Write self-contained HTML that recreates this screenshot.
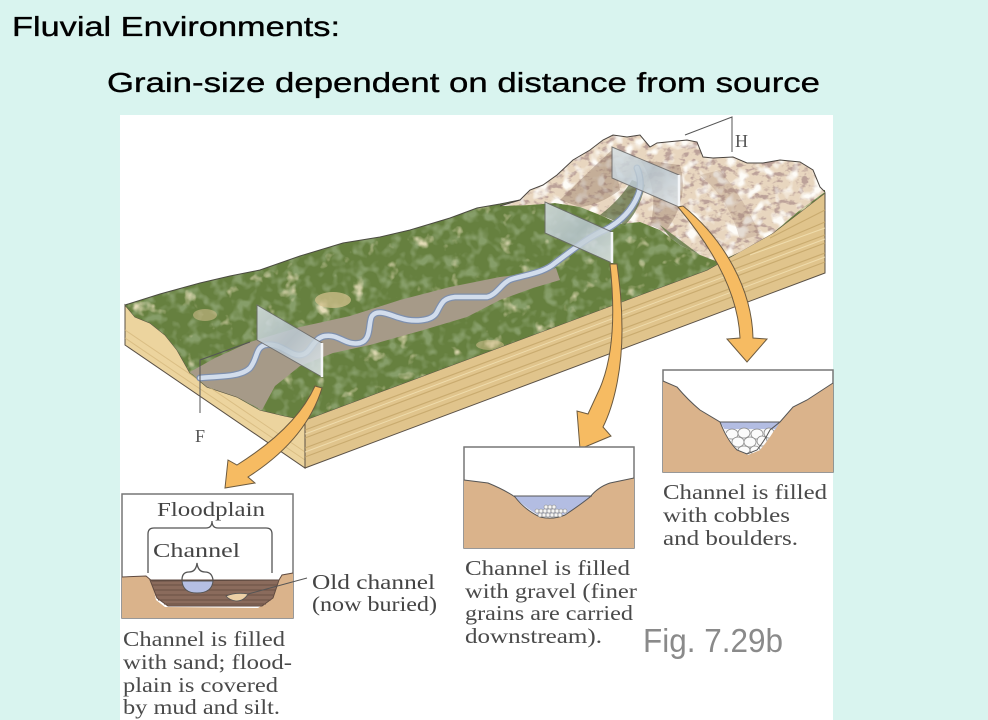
<!DOCTYPE html>
<html><head><meta charset="utf-8"><style>
html,body{margin:0;padding:0;background:#d9f4ef;}
svg{display:block;}
</style></head><body>
<svg width="988" height="720" viewBox="0 0 988 720" xmlns="http://www.w3.org/2000/svg">
<defs>
<filter id="tanspots" x="0" y="0" width="100%" height="100%">
<feTurbulence type="fractalNoise" baseFrequency="0.06" numOctaves="3" seed="4"/>
<feColorMatrix type="matrix" values="0 0 0 0 0.78  0 0 0 0 0.72  0 0 0 0 0.48  4 0 0 0 -2.55"/>
</filter>
<filter id="darkspots" x="0" y="0" width="100%" height="100%">
<feTurbulence type="fractalNoise" baseFrequency="0.09" numOctaves="2" seed="9"/>
<feColorMatrix type="matrix" values="0 0 0 0 0.24  0 0 0 0 0.34  0 0 0 0 0.14  0 4 0 0 -1.9"/>
</filter>
<filter id="rockspots" x="0" y="0" width="100%" height="100%">
<feTurbulence type="fractalNoise" baseFrequency="0.11 0.18" numOctaves="3" seed="2"/>
<feColorMatrix type="matrix" values="0 0 0 0 0.50  0 0 0 0 0.36  0 0 0 0 0.32  6 0 0 0 -3.0"/>
</filter>
<filter id="rocklight" x="0" y="0" width="100%" height="100%">
<feTurbulence type="fractalNoise" baseFrequency="0.08" numOctaves="2" seed="7"/>
<feColorMatrix type="matrix" values="0 0 0 0 0.99  0 0 0 0 0.97  0 0 0 0 0.93  0 5 0 0 -2.5"/>
</filter>
<clipPath id="topclip"><path d="M125,305 L160,294 L200,283 L230,276 L260,270 L300,256 L343,243 L380,237 L410,230 L450,218 L477,208 L500,204 L520,200 L560,195 L700,200 L825,190 L825,193 L773,233 L707,270 L305,420 L285,416 L260,410 L237,397 L207,387 L190,373 L177,350 L165,335 L150,323 L135,317 Z"/></clipPath>
<clipPath id="rockclip"><path d="M500,206 L520,200 L530,190 L543,185 L557,175 L573,160 L590,150 L603,140 L613,135 L627,137 L640,135 L650,147 L657,143 L667,142 L687,140 L697,142 L703,157 L713,158 L733,157 L747,163 L763,163 L780,160 L800,162 L813,170 L820,187 L825,192 L800,210 L773,233 L740,252 L718,262 L700,255 L680,245 L660,230 L640,222 L620,224 L600,215 L580,207 L555,203 L530,205 Z"/></clipPath>
<clipPath id="cobclip"><path d="M722,424 L778,424 Q770,438 760,450 L748,455 L737,450 Q728,438 722,424 Z"/></clipPath>
<linearGradient id="glass" x1="0" y1="0" x2="1" y2="1">
<stop offset="0" stop-color="#d9e2e6"/><stop offset="0.5" stop-color="#b9c7d0"/><stop offset="1" stop-color="#e3eaee"/>
</linearGradient>
</defs>

<rect x="0" y="0" width="988" height="720" fill="#d9f4ef"/>
<rect x="120" y="115" width="713" height="605" fill="#ffffff"/>

<text x="12" y="36" font-family="Liberation Sans, Arial, sans-serif" font-size="28" fill="#000" stroke="#000" stroke-width="0.35" textLength="328" lengthAdjust="spacingAndGlyphs">Fluvial Environments:</text>
<text x="107" y="92" font-family="Liberation Sans, Arial, sans-serif" font-size="28" fill="#000" stroke="#000" stroke-width="0.35" textLength="713" lengthAdjust="spacingAndGlyphs">Grain-size dependent on distance from source</text>

<!-- left end face -->
<path d="M125,305 L135,317 L150,323 L165,335 L177,350 L190,373 L207,387 L237,397 L260,410 L285,416 L305,420 L305,468 L125,345 Z" fill="#ecd49e" stroke="#5a5045" stroke-width="1"/>
<g stroke="#d6b97e" stroke-width="1" fill="none" opacity="0.8">
<path d="M125,330 L305,452"/><path d="M125,338 L305,460"/>
</g>
<!-- front long face (including exposed cliff at right end) -->
<path d="M305,420 L707,270 L773,233 L825,193 L825,273 L305,468 Z" fill="#e0c48c" stroke="#5a5045" stroke-width="1"/>
<g stroke="#c6a76b" stroke-width="1.2" fill="none" opacity="0.85">
<path d="M305,430 L825,235"/><path d="M305,438 L825,243"/><path d="M305,448 L825,253"/><path d="M305,457 L825,262"/>
<path d="M730,262 L825,222"/><path d="M770,238 L825,210"/>
</g>
<g stroke="#f3e2b4" stroke-width="1" fill="none" opacity="0.8">
<path d="M305,434 L825,239"/><path d="M305,452 L825,257"/><path d="M750,255 L825,228"/>
</g>

<!-- top surface -->
<g clip-path="url(#topclip)">
<rect x="120" y="185" width="710" height="240" fill="#66803f"/>
<rect x="120" y="185" width="710" height="240" filter="url(#darkspots)"/>
<rect x="120" y="185" width="710" height="240" filter="url(#tanspots)"/>
<ellipse cx="333" cy="300" rx="18" ry="8" fill="#d2c08c" opacity="0.75"/>
<ellipse cx="205" cy="315" rx="12" ry="6" fill="#cdbb88" opacity="0.6"/>
<ellipse cx="490" cy="345" rx="14" ry="5" fill="#cfbd8b" opacity="0.55"/>
<!-- floodplain -->
<path d="M190,372 L215,358 L250,342 L300,327 L350,316 L400,300 L450,287 L500,277 L540,272 L556,268 L560,280 L533,288 L500,300 L467,317 L420,331 L370,345 L333,353 L300,366 L275,386 L262,410 L237,397 L207,387 Z" fill="#a69a88"/>
</g>
<path d="M125,305 L160,294 L200,283 L230,276 L260,270 L300,256 L343,243 L380,237 L410,230 L450,218 L477,208 L500,204 L520,200" fill="none" stroke="#4a4a40" stroke-width="1"/>

<!-- mountains -->
<g clip-path="url(#rockclip)">
<rect x="495" y="130" width="335" height="135" fill="#e8d6bf"/>
<rect x="495" y="130" width="335" height="135" filter="url(#rockspots)"/>
<rect x="495" y="130" width="335" height="135" filter="url(#rocklight)"/>
<path d="M560,200 Q590,170 612,150 L620,190 Q600,205 580,207 Z" fill="#8f7260" opacity="0.4"/>
<path d="M640,160 Q660,190 650,225 L665,232 Q690,200 680,165 Z" fill="#8a6e5c" opacity="0.35"/>
<path d="M700,175 Q730,200 740,240 L760,235 Q745,200 720,170 Z" fill="#9a7c68" opacity="0.25"/>
<path d="M660,225 L700,255 L718,262 L690,262 Z" fill="#5d7440" opacity="0.8"/>
</g>
<path d="M500,206 L520,200 L530,190 L543,185 L557,175 L573,160 L590,150 L603,140 L613,135 L627,137 L640,135 L650,147 L657,143 L667,142 L687,140 L697,142 L703,157 L713,158 L733,157 L747,163 L763,163 L780,160 L800,162 L813,170 L820,187 L825,192" fill="none" stroke="#4a4540" stroke-width="1"/>
<!-- gorge shadow -->
<path d="M600,215 Q620,200 632,180 L645,185 Q640,210 625,225 Z" fill="#56683a" opacity="0.7"/>

<!-- river -->
<path d="M200,378 C215,376 240,378 250,368 C258,358 255,348 265,345 C280,342 290,356 300,355 C312,354 312,338 325,336 C340,334 345,346 360,343 C372,340 368,322 372,316 C378,308 392,316 400,318 C412,322 432,322 437,312 C442,302 444,298 455,297 L487,297 C497,295 502,282 512,279 C530,274 545,272 555,263 C575,248 590,236 605,230 C620,222 632,210 638,195 C642,185 640,175 637,168" fill="none" stroke="#7f90ad" stroke-width="7" stroke-linecap="round"/>
<path d="M200,378 C215,376 240,378 250,368 C258,358 255,348 265,345 C280,342 290,356 300,355 C312,354 312,338 325,336 C340,334 345,346 360,343 C372,340 368,322 372,316 C378,308 392,316 400,318 C412,322 432,322 437,312 C442,302 444,298 455,297 L487,297 C497,295 502,282 512,279 C530,274 545,272 555,263 C575,248 590,236 605,230 C620,222 632,210 638,195 C642,185 640,175 637,168" fill="none" stroke="#d2ddec" stroke-width="4.5" stroke-linecap="round"/>

<!-- glass panels -->
<path d="M257,305 L322,343 L322,377 L257,340 Z" fill="url(#glass)" opacity="0.85" stroke="#6a6a6a" stroke-width="1"/>
<path d="M322,343 L322,377" stroke="#f4f6f8" stroke-width="2.5"/>
<path d="M545,202 L612,232 L612,263 L545,233 Z" fill="url(#glass)" opacity="0.85" stroke="#6a6a6a" stroke-width="1"/>
<path d="M612,232 L612,263" stroke="#f4f6f8" stroke-width="2.5"/>
<path d="M612,147 L679,175 L679,207 L612,178 Z" fill="url(#glass)" opacity="0.85" stroke="#6a6a6a" stroke-width="1"/>
<path d="M679,175 L679,207" stroke="#f4f6f8" stroke-width="2.5"/>

<!-- F and H labels -->
<path d="M250,342 L200,360 L200,413" fill="none" stroke="#555" stroke-width="1"/>
<text x="200" y="442" text-anchor="middle" font-family="Liberation Serif, serif" font-size="18" fill="#555">F</text>
<path d="M685,135 L732,117 L732,152" fill="none" stroke="#555" stroke-width="1"/>
<text x="735" y="147" font-family="Liberation Serif, serif" font-size="18" fill="#555">H</text>

<!-- arrows -->
<path d="M315,386 Q296,428 237,465 L228,460 L225,488 L255,483 L248,477 Q306,440 322,388 Z" fill="#f6bb62" stroke="#6b5a40" stroke-width="1"/>
<path d="M610,264 C615,310 614,355 600,388 L588,414 L577,411 L580,449 L611,436 L603,427 C614,405 622,370 622,330 C622,300 619,280 617,264 Z" fill="#f6bb62" stroke="#6b5a40" stroke-width="1"/>
<path d="M678,207 C710,245 738,290 740,338 L727,339 L747,362 L767,339 L753,338 C752,290 725,240 683,206 Z" fill="#f6bb62" stroke="#6b5a40" stroke-width="1"/>

<!-- Box 1: floodplain -->
<rect x="122" y="494" width="171" height="124" fill="#fff" stroke="#777" stroke-width="1.5"/>
<path d="M122,577 L146,576 L152,581 L156,600 L165,607 L258,608 L270,600 L277,583 L282,575 L293,573 L293,618 L122,618 Z" fill="#dab38b"/>
<path d="M150,580 L279,580 L273,598 L262,606 L168,606 L157,598 Z" fill="#8a6b5c" stroke="#5f4a40" stroke-width="1"/>
<g stroke="#6b5045" stroke-width="1">
<path d="M152,585 L277,585"/><path d="M154,590 L276,590"/><path d="M155,595 L274,595"/><path d="M158,600 L271,600"/><path d="M164,604 L266,604"/>
</g>
<path d="M122,577 L146,576 L152,581 L279,580 L282,575 L293,573" fill="none" stroke="#5f4a40" stroke-width="1"/>
<path d="M182,581 L213,581 Q212,593 197,593 Q183,593 182,581 Z" fill="#b5bfe3" stroke="#555" stroke-width="1"/>
<path d="M226,596 Q236,592 248,594 Q244,601 236,601 Q229,600 226,596 Z" fill="#ecd0a6" stroke="#555" stroke-width="0.8"/>
<path d="M248,594 L307,578" stroke="#555" stroke-width="1"/>
<path d="M148,573 L148,534 Q148,528 154,528 L206,528 Q212,528 212,521 Q212,528 218,528 L266,528 Q272,528 272,534 L272,573" fill="none" stroke="#555" stroke-width="1.3"/>
<path d="M182,580 Q182,572 189,572 Q196,572 197,563 Q198,572 205,572 Q212,572 213,580" fill="none" stroke="#555" stroke-width="1.3"/>
<text x="157" y="516" font-family="Liberation Serif, serif" font-size="20" fill="#444" textLength="108" lengthAdjust="spacingAndGlyphs">Floodplain</text>
<text x="153" y="557" font-family="Liberation Serif, serif" font-size="20" fill="#444" textLength="87" lengthAdjust="spacingAndGlyphs">Channel</text>
<text x="312" y="589" font-family="Liberation Serif, serif" font-size="21" fill="#444" textLength="123" lengthAdjust="spacingAndGlyphs">Old channel</text>
<text x="312" y="611" font-family="Liberation Serif, serif" font-size="21" fill="#444" textLength="125" lengthAdjust="spacingAndGlyphs">(now buried)</text>

<g font-family="Liberation Serif, serif" font-size="21" fill="#4a4a4a">
<text x="123" y="646" textLength="162" lengthAdjust="spacingAndGlyphs">Channel is filled</text>
<text x="123" y="669" textLength="169" lengthAdjust="spacingAndGlyphs">with sand; flood-</text>
<text x="123" y="692" textLength="155" lengthAdjust="spacingAndGlyphs">plain is covered</text>
<text x="123" y="714" textLength="157" lengthAdjust="spacingAndGlyphs">by mud and silt.</text>
</g>

<!-- Box 2: gravel -->
<rect x="464" y="447" width="170" height="101" fill="#fff" stroke="#777" stroke-width="1.5"/>
<path d="M464,480 L488,483 Q505,490 515,497 Q525,510 540,517 Q553,520 565,515 Q580,505 590,497 Q598,487 610,483 L634,478 L634,548 L464,548 Z" fill="#dab38b"/>
<path d="M514,496 L592,496 Q580,506 565,514 Q553,519 540,516 Q525,508 514,496 Z" fill="#b3bde2"/>
<path d="M464,480 L488,483 Q505,490 515,497 Q525,510 540,517 Q553,520 565,515 Q580,505 590,497 Q598,487 610,483 L634,478" fill="none" stroke="#555" stroke-width="1"/>
<path d="M514,496 L592,496" stroke="#555" stroke-width="1"/>
<g fill="#f4f4f4" stroke="#888" stroke-width="0.6">
<circle cx="546" cy="507" r="2"/><circle cx="550" cy="507" r="2"/><circle cx="554" cy="507" r="2"/>
<circle cx="537" cy="511" r="2"/><circle cx="541" cy="511" r="2"/><circle cx="545" cy="511" r="2"/><circle cx="549" cy="511" r="2"/><circle cx="553" cy="511" r="2"/><circle cx="557" cy="511" r="2"/><circle cx="561" cy="511" r="2"/><circle cx="565" cy="511" r="2"/>
<circle cx="540" cy="515" r="2"/><circle cx="544" cy="515" r="2"/><circle cx="548" cy="515" r="2"/><circle cx="552" cy="515" r="2"/><circle cx="556" cy="515" r="2"/><circle cx="560" cy="515" r="2"/>
</g>
<g font-family="Liberation Serif, serif" font-size="21" fill="#4a4a4a">
<text x="465" y="575" textLength="165" lengthAdjust="spacingAndGlyphs">Channel is filled</text>
<text x="465" y="598" textLength="172" lengthAdjust="spacingAndGlyphs">with gravel (finer</text>
<text x="465" y="620" textLength="168" lengthAdjust="spacingAndGlyphs">grains are carried</text>
<text x="465" y="643" textLength="137" lengthAdjust="spacingAndGlyphs">downstream).</text>
</g>

<!-- Box 3: cobbles -->
<rect x="663" y="370" width="170" height="102" fill="#fff" stroke="#777" stroke-width="1.5"/>
<path d="M663,381 L677,387 Q688,400 700,410 L720,422 Q727,440 737,450 L747,454 L757,450 Q765,440 770,430 L780,422 L793,407 L807,400 L833,383 L833,472 L663,472 Z" fill="#dab38b"/>
<path d="M720,422 L780,422 L775,430 L725,430 Z" fill="#b3bde2"/>
<g clip-path="url(#cobclip)">
<rect x="720" y="429" width="60" height="30" fill="#f6f6f6"/>
<g fill="#fbfbfb" stroke="#8a8a8a" stroke-width="0.8">
<ellipse cx="732" cy="434" rx="6" ry="5"/><ellipse cx="744" cy="433" rx="6" ry="5"/><ellipse cx="757" cy="434" rx="6" ry="5"/><ellipse cx="769" cy="433" rx="5" ry="5"/>
<ellipse cx="738" cy="442" rx="6" ry="5"/><ellipse cx="750" cy="442" rx="6" ry="5"/><ellipse cx="762" cy="441" rx="5" ry="5"/>
<ellipse cx="744" cy="450" rx="6" ry="4"/><ellipse cx="755" cy="450" rx="5" ry="4"/>
</g>
</g>
<path d="M663,381 L677,387 Q688,400 700,410 L720,422 Q727,440 737,450 L747,454 L757,450 Q765,440 770,430 L780,422 L793,407 L807,400 L833,383" fill="none" stroke="#555" stroke-width="1"/>
<path d="M720,422 L780,422" stroke="#555" stroke-width="1"/>
<g font-family="Liberation Serif, serif" font-size="21" fill="#4a4a4a">
<text x="663" y="499" textLength="164" lengthAdjust="spacingAndGlyphs">Channel is filled</text>
<text x="663" y="522" textLength="127" lengthAdjust="spacingAndGlyphs">with cobbles</text>
<text x="663" y="545" textLength="135" lengthAdjust="spacingAndGlyphs">and boulders.</text>
</g>

<text x="643" y="652" font-family="Liberation Sans, Arial, sans-serif" font-size="33" fill="#8a8a8a" textLength="140" lengthAdjust="spacingAndGlyphs">Fig. 7.29b</text>
</svg>
</body></html>
